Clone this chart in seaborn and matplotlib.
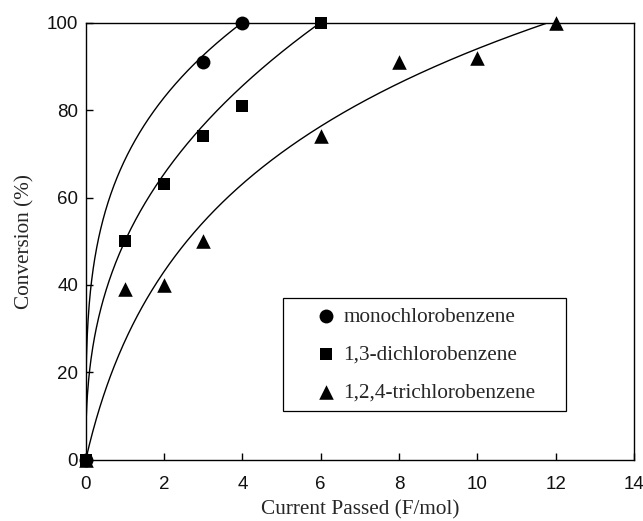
import numpy as np
import pandas as pd
import matplotlib
matplotlib.use("Agg")
import matplotlib.pyplot as plt
import seaborn as sns

# ---- data ----
mono_x = [0, 3, 4]
mono_y = [0, 91, 100]
di_x = [0, 1, 2, 3, 4, 6]
di_y = [0, 50, 63, 74, 81, 100]
tri_x = [0, 1, 2, 3, 6, 8, 10, 12]
tri_y = [0, 39, 40, 50, 74, 91, 92, 100]

labels = ["monochlorobenzene", "1,3-dichlorobenzene", "1,2,4-trichlorobenzene"]

# trend-curve parameters
# mono, di: y = a * x**b ; tri: y = a * ln(1 + b*x)
trend_model = ["power", "power", "log"]
trend_a = [68.6, 50.0, 39.2]
trend_b = [0.272, 0.387, 1.0]

xlim = (0, 14)
ylim = (0, 100)
xticks = [0, 2, 4, 6, 8, 10, 12, 14]
yticks = [0, 20, 40, 60, 80, 100]

sns.set_style("white")
plt.rcParams["font.family"] = ["Liberation Serif", "DejaVu Serif"]

fig = plt.figure(figsize=(6.43, 5.21), dpi=100)
ax = fig.add_axes([0.1333, 0.1171, 0.8527, 0.8397])

series = [(mono_x, mono_y), (di_x, di_y), (tri_x, tri_y)]
markers = ["o", "s", "^"]
sizes = [100, 68, 110]

for (xs, ys), model, a, b in zip(series, trend_model, trend_a, trend_b):
    xc = np.linspace(0, max(xs), 400)
    if model == "power":
        yc = a * np.power(xc, b)
    else:
        yc = a * np.log1p(b * xc)
    sns.lineplot(x=xc, y=yc, ax=ax, color="black", lw=1.0, estimator=None,
                 sort=False, legend=False)

handles = []
for (xs, ys), m, s, lab in zip(series, markers, sizes, labels):
    sns.scatterplot(x=xs, y=ys, ax=ax, marker=m, s=s, color="black",
                    edgecolor="black", linewidth=0, clip_on=False, zorder=5,
                    legend=False)
    coll = ax.collections[-1]
    coll.set_label(lab)
    handles.append(coll)

ax.set_xlim(*xlim)
ax.set_ylim(*ylim)
ax.set_xticks(xticks)
ax.set_yticks(yticks)

for sp in ax.spines.values():
    sp.set_color("black")
    sp.set_linewidth(1.0)

ax.tick_params(axis="both", which="both", direction="in", length=5, width=1.0,
               color="black", top=False, right=False, bottom=True, left=True)
ax.tick_params(axis="x", pad=11.5)
ax.tick_params(axis="y", pad=5.5)
for lbl in ax.get_xticklabels() + ax.get_yticklabels():
    lbl.set_fontfamily(["Liberation Sans", "DejaVu Sans"])
    lbl.set_fontsize(13.5)
    lbl.set_color("#111111")

ax.set_xlabel("Current Passed (F/mol)", fontsize=15.3, labelpad=5.5)
ax.set_ylabel("Conversion (%)", fontsize=15.3, labelpad=8.5)

leg = ax.legend(handles=handles, labels=labels, loc="upper left",
                bbox_to_anchor=(0.36, 0.1166, 0.516, 0.2534), mode="expand",
                borderaxespad=0, fontsize=15.3, frameon=True, fancybox=False,
                edgecolor="black", framealpha=1, borderpad=0.42,
                labelspacing=0.84, handlelength=3.2, handletextpad=-0.78,
                scatterpoints=1)
leg.get_frame().set_linewidth(0.9)

fig.savefig("out.png", dpi=100)
